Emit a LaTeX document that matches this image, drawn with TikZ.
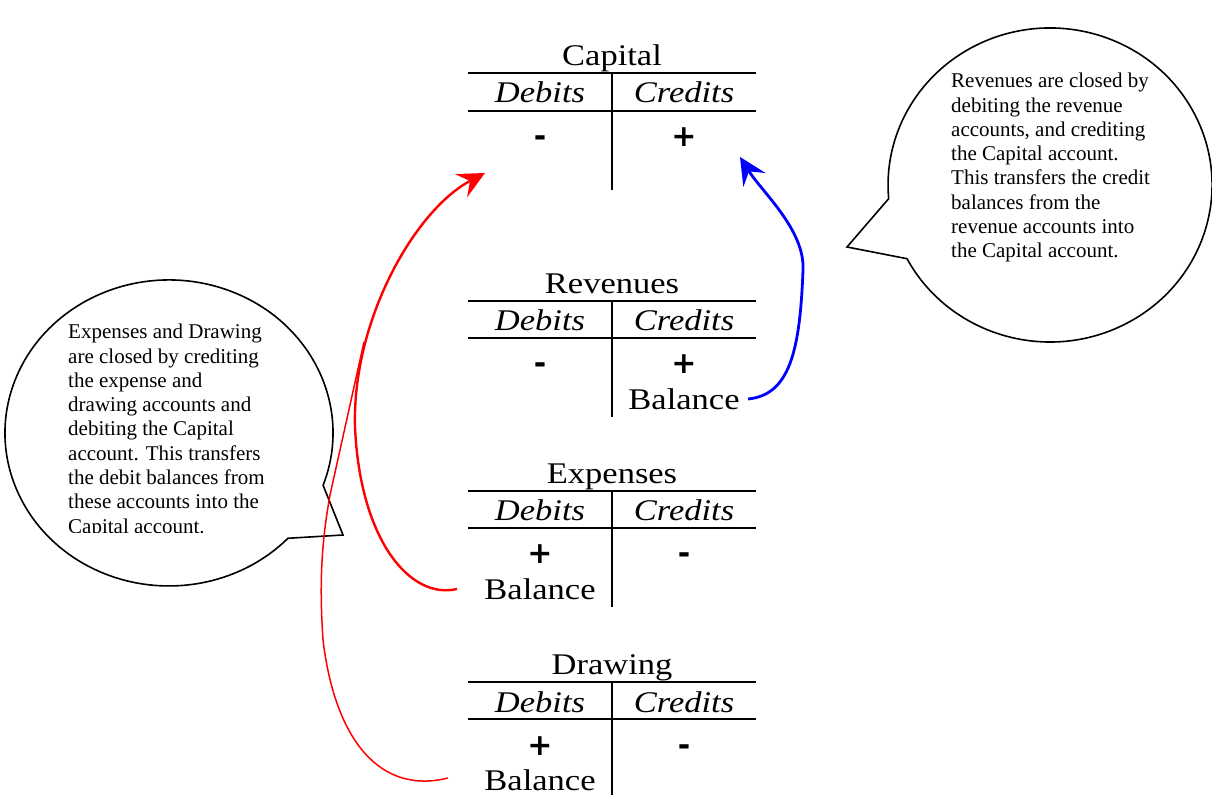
\documentclass[tikz,border=0pt]{standalone}
\usepackage{fontspec}
\setmainfont{Liberation Serif}
\newfontfamily\accfont[FakeStretch=1.15]{Liberation Serif}
\newfontfamily\signfont{DejaVu Sans}
\usetikzlibrary{arrows.meta}
\begin{document}
\begin{tikzpicture}[x=1pt,y=1pt,
 tline/.style={line width=2pt},
 acchead/.style={font=\accfont\fontsize{30}{36}\selectfont, anchor=base, inner sep=0},
 acccol/.style={font=\accfont\itshape\fontsize{30}{36}\selectfont, anchor=base, inner sep=0},
 accsign/.style={font=\signfont\bfseries\fontsize{30}{36}\selectfont, anchor=base, inner sep=0},
 accbal/.style={font=\accfont\fontsize{30}{36}\selectfont, anchor=base, inner sep=0},
 bubble/.style={draw, line width=1.6pt, fill=white},
 ctext/.style={font=\fontsize{21}{24.3}\selectfont, align=left, anchor=north west, inner sep=0},
 arr/.style={-{Stealth[length=27pt,width=26pt,inset=10pt]}},
]
\useasboundingbox (0,0) rectangle (1212,795);

% ---- callouts ----
\draw[bubble] (323.1,309.7) arc[start angle=-20, end angle=316.5, x radius=164, y radius=153] -- (343,260) -- cycle;
\begin{scope}
\clip (0,262) rectangle (360,500);
\node[ctext] (lefttext) at (68,471) {Expenses and Drawing\\are closed by crediting\\the expense and\\drawing accounts and\\debiting the Capital\\account. This transfers\\the debit balances from\\these accounts into the\\Capital account.};
\end{scope}

\draw[bubble] (907,536.3) arc[start angle=208, end angle=545, x radius=162, y radius=157] -- (847,548) -- cycle;
\node[ctext] (righttext) at (951,722) {Revenues are closed by\\debiting the revenue\\accounts, and crediting\\the Capital account.\\This transfers the credit\\balances from the\\revenue accounts into\\the Capital account.};

% ---- Capital ----
\draw[tline] (468,722) -- (756,722);
\draw[tline] (468,684) -- (756,684);
\draw[tline] (612,722) -- (612,605);
\node[acchead] (capT) at (612,729) {Capital};
\node[acccol] (capD) at (540,692) {Debits};
\node[acccol] (capC) at (684,692) {Credits};
\node[accsign] (capM) at (540,648) {-};
\node[accsign] (capP) at (684,648) {+};

% ---- Revenues ----
\draw[tline] (468,494) -- (756,494);
\draw[tline] (468,457) -- (756,457);
\draw[tline] (612,494) -- (612,378);
\node[acchead] (revT) at (612,501) {Revenues};
\node[acccol] (revD) at (540,464) {Debits};
\node[acccol] (revC) at (684,464) {Credits};
\node[accsign] (revM) at (540,421) {-};
\node[accsign] (revP) at (684,421) {+};
\node[accbal] (revB) at (684,385) {Balance};

% ---- Expenses ----
\draw[tline] (468,304) -- (756,304);
\draw[tline] (468,267) -- (756,267);
\draw[tline] (612,304) -- (612,188);
\node[acchead] (expT) at (612,311) {Expenses};
\node[acccol] (expD) at (540,274) {Debits};
\node[acccol] (expC) at (684,274) {Credits};
\node[accsign] (expP) at (540,231) {+};
\node[accsign] (expM) at (684,231) {-};
\node[accbal] (expB) at (540,195) {Balance};

% ---- Drawing ----
\draw[tline] (468,113) -- (756,113);
\draw[tline] (468,76) -- (756,76);
\draw[tline] (612,113) -- (612,0);
\node[acchead] (drwT) at (612,120) {Drawing};
\node[acccol] (drwD) at (540,83) {Debits};
\node[acccol] (drwC) at (684,83) {Credits};
\node[accsign] (drwP) at (540,40) {+};
\node[accsign] (drwM) at (684,40) {-};
\node[accbal] (drwB) at (540,5) {Balance};

% ---- connectors ----
\coordinate (expOut) at (457,206);
\coordinate (capInL) at (485,622);
\coordinate (revOut) at (748,396);
\coordinate (capInR) at (740,638);
\coordinate (drwOut) at (448,17);
\coordinate (drwEnd) at (364,453);

\draw[red, line width=2.4pt, arr] (expOut) .. controls (410,195) and (360,255) .. (355,368)
  .. controls (352,475) and (415,585) .. (capInL);
\draw[blue, line width=2.8pt, arr] (revOut) .. controls (790,400) and (800,445) .. (803,525)
  .. controls (805,565) and (762,603) .. (capInR);
\draw[red, line width=1.5pt] (drwOut) .. controls (380,0) and (335,55) .. (323,155)
  .. controls (319,215) and (322,255) .. (330,300) -- (drwEnd);
\end{tikzpicture}
\end{document}
